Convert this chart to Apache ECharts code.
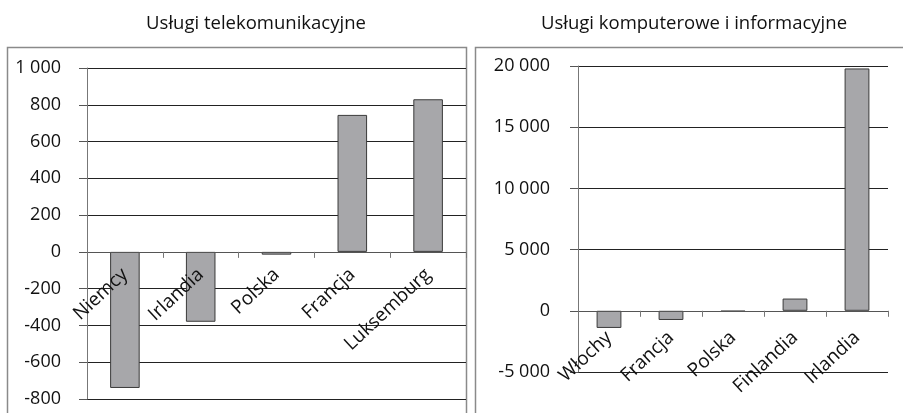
<!DOCTYPE html>
<html><head><meta charset="utf-8">
<script src="https://cdn.jsdelivr.net/npm/echarts@6/dist/echarts.min.js"></script>
<style>html,body{margin:0;padding:0;background:#fff}#c{width:903px;height:413px}</style>
</head><body><div id="c"></div>
<script>
var titleLeft = 'Usługi telekomunikacyjne';
var titleRight = 'Usługi komputerowe i informacyjne';
var catsLeft = ['Niemcy', 'Irlandia', 'Polska', 'Francja', 'Luksemburg'];
var valsLeft = [-740, -380, -15, 745, 830];
var catsRight = ['Włochy', 'Francja', 'Polska', 'Finlandia', 'Irlandia'];
var valsRight = [-1400, -750, -60, 1000, 19800];

var FONT = 'Open Sans';
var H = 413;
function fmt(v){ return String(v).replace(/\B(?=(\d{3})+(?!\d))/g, ' '); }

var gridL = {left:87, right:437, top:68, bottom:14};
var gridR = {left:578, right:15, top:66, bottom:41};
var yL = {min:-800, max:1000, interval:200};
var yR = {min:-5000, max:20000, interval:5000};
// labels sit below the zero line (v6 keeps labels at grid edge), so shift them up
function zeroShift(g, y){
  var h = H - g.top - g.bottom;
  return (0 - y.min) / (y.max - y.min) * h;
}

var chart = echarts.init(document.getElementById('c'), null, {renderer:'canvas'});
function xAx(i, cats, margin){
  return {type:'category', gridIndex:i, data:cats, z:10,
    axisLine:{onZero:true, lineStyle:{color:'#555', width:1}},
    axisTick:{show:true, inside:false, length:6, alignWithLabel:false, lineStyle:{color:'#777'}},
    axisLabel:{rotate:43, margin:margin, fontFamily:FONT, fontSize:19, color:'#111', interval:0, hideOverlap:false},
    splitLine:{show:false}};
}
function yAx(i, y, margin){
  return {type:'value', gridIndex:i, min:y.min, max:y.max, interval:y.interval,
    axisLine:{show:true, lineStyle:{color:'#777', width:1}},
    axisTick:{show:true, length:8, lineStyle:{color:'#555'}},
    axisLabel:{margin:margin, fontFamily:FONT, fontSize:18, color:'#111', formatter:fmt},
    splitLine:{show:true, lineStyle:{color:'#222', width:1}}};
}
var barStyle = {color:'#a7a7aa', borderColor:'#3a3a3a', borderWidth:1};
chart.setOption({
  animation:false,
  backgroundColor:'#fff',
  title:[
    {text:titleLeft, left:251, top:9, textAlign:'center', textStyle:{fontFamily:FONT, fontSize:18.5, fontWeight:'normal', color:'#111'}},
    {text:titleRight, left:689, top:9, textAlign:'center', textStyle:{fontFamily:FONT, fontSize:18.5, fontWeight:'normal', color:'#111'}}
  ],
  graphic:[
    {type:'rect', shape:{x:7.5, y:47.5, width:459, height:380}, style:{fill:'none', stroke:'#8a8a8a', lineWidth:1.5}, z:-1},
    {type:'rect', shape:{x:475.5, y:47.5, width:460, height:380}, style:{fill:'none', stroke:'#8a8a8a', lineWidth:1.5}, z:-1}
  ],
  grid:[
    Object.assign({containLabel:false, outerBoundsMode:'none'}, gridL),
    Object.assign({containLabel:false, outerBoundsMode:'none'}, gridR)
  ],
  xAxis:[xAx(0, catsLeft, 20 - zeroShift(gridL, yL)), xAx(1, catsRight, 24 - zeroShift(gridR, yR))],
  yAxis:[yAx(0, yL, 26), yAx(1, yR, 28)],
  series:[
    {type:'bar', xAxisIndex:0, yAxisIndex:0, data:valsLeft, barWidth:'39%', itemStyle:barStyle},
    {type:'bar', xAxisIndex:1, yAxisIndex:1, data:valsRight, barWidth:'40%', itemStyle:barStyle}
  ]
});
</script></body></html>
